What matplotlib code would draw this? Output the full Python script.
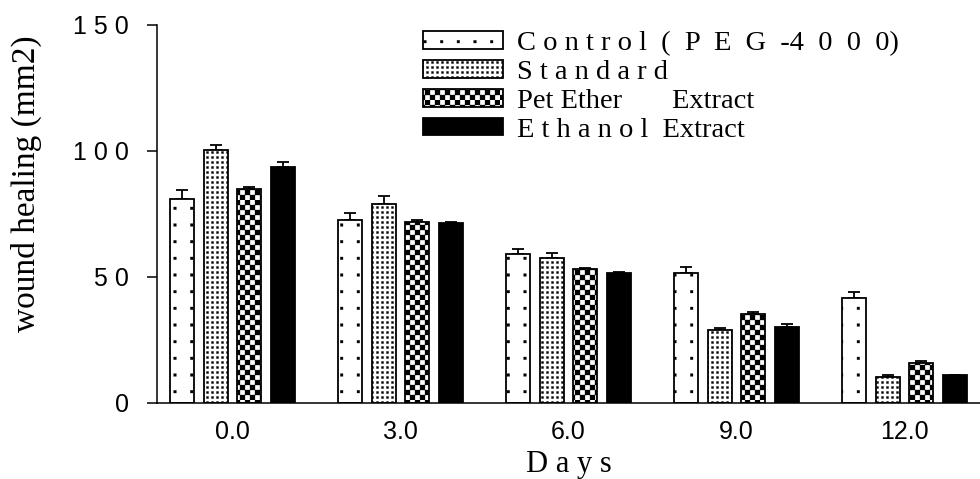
import warnings
warnings.filterwarnings("ignore")
import numpy as np
import matplotlib
matplotlib.use("Agg")
import matplotlib.pyplot as plt
from matplotlib import hatch as mhatch
from matplotlib.path import Path
from matplotlib.patches import Patch

# ---------------- data ----------------
days = ["0.0", "3.0", "6.0", "9.0", "12.0"]
series_names = ["C o n t r o l  (  P  E  G  -4  0  0  0)", "S t a n d a r d",
                "Pet Ether       Extract", "E t h a n o l  Extract"]
control = [81, 72.5, 59, 51.5, 41.5]
control_err = [3.5, 3, 2, 2.5, 2.5]
standard = [100.5, 79, 57.5, 29, 10.5]
standard_err = [2, 3, 2, 0.6, 0.6]
pet_ether = [85, 72, 53, 35.5, 16]
pet_ether_err = [0.6, 0.5, 0.5, 0.5, 0.6]
ethanol = [93.5, 71.5, 51.5, 30, 11]
ethanol_err = [2, 0.5, 0.5, 1.5, 0.2]
yticks = [0, 50, 100, 150]
ytick_labels = ["0", "5 0", "1 0 0", "1 5 0"]


# ---------------- custom hatch patterns ----------------
class SquareGrid(mhatch.HatchPatternBase):
    char = "s"
    per_inch = 6
    frac = 0.16
    checker = False

    def _cells(self):
        n = self.n
        cells = []
        for i in range(n):
            for j in range(n):
                if self.checker and (i + j) % 2:
                    continue
                cells.append((i, j))
        return cells

    def __init__(self, hatch, density):
        k = hatch.count(self.char)
        self.n = self.per_inch * k if k else 0
        self.num_vertices = len(self._cells()) * 5 if self.n else 0

    def set_vertices_and_codes(self, vertices, codes):
        step = 1.0 / self.n
        s = step * self.frac
        off = (step - s) / 2
        idx = 0
        for (i, j) in self._cells():
            x0 = i * step + off
            y0 = j * step + off
            vertices[idx:idx + 5] = [(x0, y0), (x0 + s, y0), (x0 + s, y0 + s),
                                     (x0, y0 + s), (x0, y0)]
            codes[idx:idx + 5] = [Path.MOVETO, Path.LINETO, Path.LINETO,
                                  Path.LINETO, Path.CLOSEPOLY]
            idx += 5


class FineGrid(SquareGrid):
    char = "g"
    per_inch = 20
    frac = 0.42


class Checker(SquareGrid):
    char = "c"
    per_inch = 20
    frac = 1.0
    checker = True


mhatch._hatch_types.extend([SquareGrid, FineGrid, Checker])

plt.rcParams["hatch.linewidth"] = 0.2

# ---------------- figure ----------------
fig = plt.figure(figsize=(9.8, 4.79), dpi=100)
ax = fig.add_axes([157 / 980, 1 - 403 / 479, 1 - 157 / 980, (403 - 25) / 479])

x = np.arange(len(days))
width = 0.143
offsets = [-0.3, -0.1, 0.1, 0.3]
values = [control, standard, pet_ether, ethanol]
errs = [control_err, standard_err, pet_ether_err, ethanol_err]
hatches = ["s", "g", "c", None]
faces = ["white", "white", "white", "black"]

handles = []
for vals, er, off, h, fc, name in zip(values, errs, offsets, hatches, faces, series_names):
    ax.bar(x + off, vals, width, color=fc, edgecolor="black", linewidth=1.3,
           hatch=h, zorder=2)
    ax.errorbar(x + off, vals, yerr=[np.zeros(len(er)), er], fmt="none",
                ecolor="black", elinewidth=1.3, capsize=4, capthick=1.3, zorder=1)
    handles.append(Patch(facecolor=fc, edgecolor="black", linewidth=1.3,
                         hatch=h, label=name))

ax.set_xlim(-0.45, 4.45)
ax.set_ylim(0, 150)
ax.set_xticks(x)
ax.set_xticklabels(days, family="Liberation Sans", fontsize=18)
ax.set_yticks(yticks)
ax.set_yticklabels(ytick_labels, family="Liberation Sans", fontsize=18)
ax.tick_params(axis="x", length=0, pad=12)
ax.tick_params(axis="y", length=7, width=1.1, pad=13)
for s in ["top", "right"]:
    ax.spines[s].set_visible(False)
for s in ["left", "bottom"]:
    ax.spines[s].set_linewidth(1.1)

ax.set_xlabel("D a y s", family="Liberation Serif", fontsize=22)
ax.xaxis.set_label_coords(0.5, -0.125)
ax.set_ylabel("wound healing (mm2)", family="Liberation Serif", fontsize=24)
ax.yaxis.set_label_coords(-0.14, 0.58)

leg = fig.legend(handles=handles, loc="upper left",
                 bbox_to_anchor=(423 / 980, 1 - 31 / 479),
                 bbox_transform=fig.transFigure, frameon=False,
                 prop={"family": "Liberation Serif", "size": 20.5},
                 handlelength=2.8, handleheight=0.55, handletextpad=0.5,
                 labelspacing=0.14, borderpad=0, borderaxespad=0)

fig.savefig("out.png", dpi=100)
